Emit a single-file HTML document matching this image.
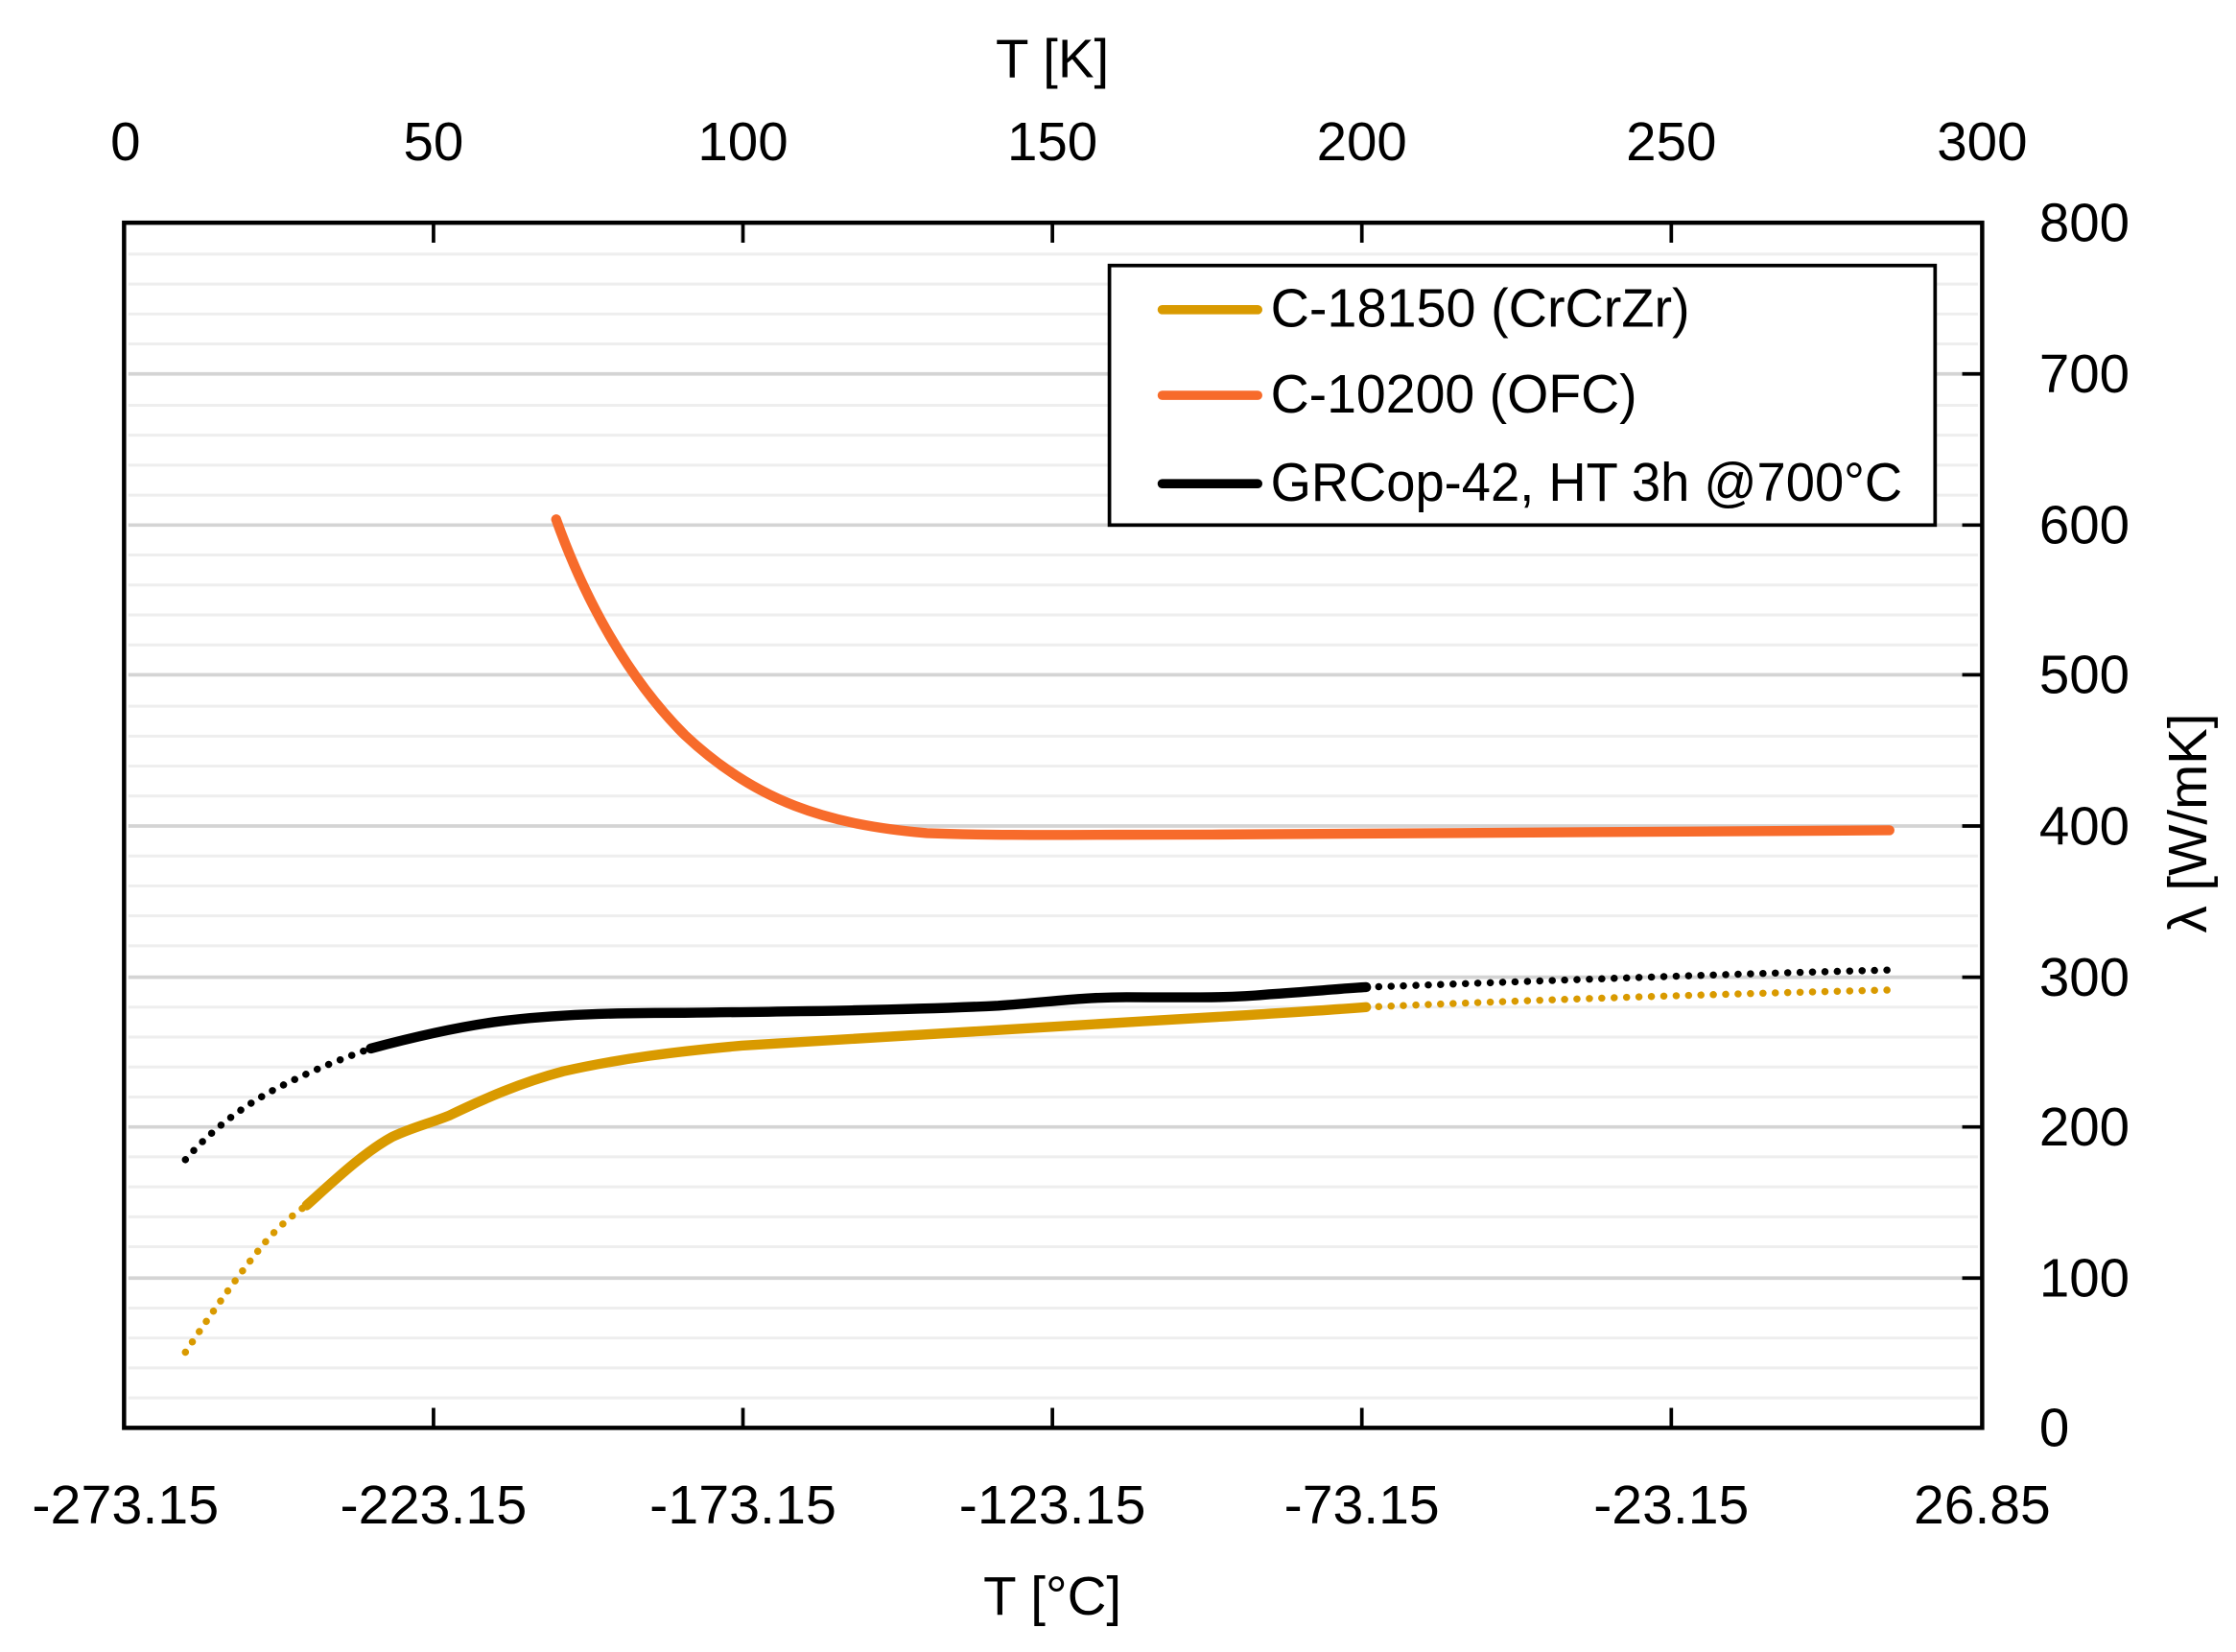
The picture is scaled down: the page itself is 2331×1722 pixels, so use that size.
<!DOCTYPE html>
<html><head><meta charset="utf-8"><style>
html,body{margin:0;padding:0;background:#fff;}
svg{display:block;}
text{font-family:"Liberation Sans",sans-serif;fill:#000;}
</style></head><body>
<svg width="2331" height="1722" viewBox="0 0 1568 1158" xmlns="http://www.w3.org/2000/svg">
<rect width="1568" height="1158" fill="#fff"/>
<g stroke="#eeeeee" stroke-width="2">
<line x1="90" x2="1387" y1="980" y2="980"/><line x1="90" x2="1387" y1="959" y2="959"/><line x1="90" x2="1387" y1="938" y2="938"/><line x1="90" x2="1387" y1="917" y2="917"/>
<line x1="90" x2="1387" y1="874" y2="874"/><line x1="90" x2="1387" y1="853" y2="853"/><line x1="90" x2="1387" y1="832" y2="832"/><line x1="90" x2="1387" y1="811" y2="811"/>
<line x1="90" x2="1387" y1="769" y2="769"/><line x1="90" x2="1387" y1="748" y2="748"/><line x1="90" x2="1387" y1="727" y2="727"/><line x1="90" x2="1387" y1="706" y2="706"/>
<line x1="90" x2="1387" y1="663" y2="663"/><line x1="90" x2="1387" y1="642" y2="642"/><line x1="90" x2="1387" y1="621" y2="621"/><line x1="90" x2="1387" y1="600" y2="600"/>
<line x1="90" x2="1387" y1="558" y2="558"/><line x1="90" x2="1387" y1="537" y2="537"/><line x1="90" x2="1387" y1="516" y2="516"/><line x1="90" x2="1387" y1="495" y2="495"/>
<line x1="90" x2="1387" y1="452" y2="452"/><line x1="90" x2="1387" y1="431" y2="431"/><line x1="90" x2="1387" y1="410" y2="410"/><line x1="90" x2="1387" y1="389" y2="389"/>
<line x1="90" x2="1387" y1="347" y2="347"/><line x1="90" x2="1387" y1="326" y2="326"/><line x1="90" x2="1387" y1="305" y2="305"/><line x1="90" x2="1387" y1="284" y2="284"/>
<line x1="90" x2="1387" y1="241" y2="241"/><line x1="90" x2="1387" y1="220" y2="220"/><line x1="90" x2="1387" y1="199" y2="199"/><line x1="90" x2="1387" y1="178" y2="178"/>
</g>
<g stroke="#d4d4d4" stroke-width="2.5">
<line x1="90" x2="1387" y1="896" y2="896"/><line x1="90" x2="1387" y1="790" y2="790"/><line x1="90" x2="1387" y1="685" y2="685"/>
<line x1="90" x2="1387" y1="579" y2="579"/><line x1="90" x2="1387" y1="473" y2="473"/><line x1="90" x2="1387" y1="368" y2="368"/><line x1="90" x2="1387" y1="262" y2="262"/>
</g>
<g stroke="#000" stroke-width="2.5">
<line x1="304" x2="304" y1="156" y2="170"/><line x1="521" x2="521" y1="156" y2="170"/><line x1="738" x2="738" y1="156" y2="170"/><line x1="955" x2="955" y1="156" y2="170"/><line x1="1172" x2="1172" y1="156" y2="170"/>
<line x1="304" x2="304" y1="1001" y2="987"/><line x1="521" x2="521" y1="1001" y2="987"/><line x1="738" x2="738" y1="1001" y2="987"/><line x1="955" x2="955" y1="1001" y2="987"/><line x1="1172" x2="1172" y1="1001" y2="987"/>
<line x1="1376" x2="1390" y1="896" y2="896"/><line x1="1376" x2="1390" y1="790" y2="790"/><line x1="1376" x2="1390" y1="685" y2="685"/><line x1="1376" x2="1390" y1="579" y2="579"/><line x1="1376" x2="1390" y1="473" y2="473"/><line x1="1376" x2="1390" y1="368" y2="368"/><line x1="1376" x2="1390" y1="262" y2="262"/>
</g>
<rect x="87" y="156" width="1303" height="845" fill="none" stroke="#000" stroke-width="3"/>
<g fill="none" stroke-width="5" stroke-linecap="round" stroke-dasharray="0.1 8.6">
<path d="M130,948 C150,918 170,890 185,872 C195,860 205,852 215,845" stroke="#D99A00"/>
<path d="M130,813 C150,790 175,772 200,760 C220,750 240,742 260,735" stroke="#000"/>
<path d="M958,706 C1100,700 1200,697 1325,694" stroke="#D99A00"/>
<path d="M958,692 C1100,687 1200,683 1325,680" stroke="#000"/>
</g>
<g fill="none" stroke-width="7" stroke-linecap="round" stroke-linejoin="round">
<path d="M390,364 C410,420 440,475 480,515 C530,562 580,578 650,584 C700,586 760,585 850,585 C1000,584 1150,583 1325,582" stroke="#F76B2B"/>
<path d="M215,845 C235,827 255,808 275,797 C290,790 300,788 315,782 C340,770 365,759 395,751 C435,742 475,737 520,733 C600,728 700,722 800,716 C870,712 920,709 958,706" stroke="#D99A00"/>
<path d="M260,735 C290,727 320,720 350,716 C390,711 430,710 480,710 C560,709 640,708 700,705 C740,702 760,699 790,699 C830,699 860,700 890,697 C920,695 940,693 958,692" stroke="#000"/>
</g>
<rect x="778" y="186" width="579" height="182" fill="#fff" stroke="#000" stroke-width="2.5"/>
<g stroke-width="6.5" stroke-linecap="round">
<line x1="815" x2="882" y1="217" y2="217" stroke="#D99A00"/>
<line x1="815" x2="882" y1="277" y2="277" stroke="#F76B2B"/>
<line x1="815" x2="882" y1="339" y2="339" stroke="#000"/>
</g>
<g font-size="38">
<text x="891" y="229" textLength="294" lengthAdjust="spacingAndGlyphs">C-18150 (CrCrZr)</text>
<text x="891" y="289" textLength="257" lengthAdjust="spacingAndGlyphs">C-10200 (OFC)</text>
<text x="891" y="351" textLength="443" lengthAdjust="spacingAndGlyphs">GRCop-42, HT 3h @700°C</text>
</g>
<g font-size="38" text-anchor="middle">
<text x="88" y="112">0</text><text x="304" y="112">50</text><text x="521" y="112">100</text><text x="738" y="112">150</text><text x="955" y="112">200</text><text x="1172" y="112">250</text><text x="1390" y="112">300</text>
<text x="738" y="54">T [K]</text>
</g>
<g font-size="38" text-anchor="middle">
<text x="88" y="1068" textLength="131" lengthAdjust="spacingAndGlyphs">-273.15</text>
<text x="304" y="1068" textLength="131" lengthAdjust="spacingAndGlyphs">-223.15</text>
<text x="521" y="1068" textLength="131" lengthAdjust="spacingAndGlyphs">-173.15</text>
<text x="738" y="1068" textLength="131" lengthAdjust="spacingAndGlyphs">-123.15</text>
<text x="955" y="1068" textLength="109" lengthAdjust="spacingAndGlyphs">-73.15</text>
<text x="1172" y="1068" textLength="109" lengthAdjust="spacingAndGlyphs">-23.15</text>
<text x="1390" y="1068" textLength="96" lengthAdjust="spacingAndGlyphs">26.85</text>
<text x="738" y="1132">T [°C]</text>
</g>
<g font-size="38">
<text x="1430" y="1014">0</text><text x="1430" y="909">100</text><text x="1430" y="803">200</text><text x="1430" y="698">300</text><text x="1430" y="592">400</text><text x="1430" y="486">500</text><text x="1430" y="381">600</text><text x="1430" y="275">700</text><text x="1430" y="169">800</text>
<text transform="translate(1547,577) rotate(-90)" text-anchor="middle">λ [W/mK]</text>
</g>
</svg>
</body></html>
